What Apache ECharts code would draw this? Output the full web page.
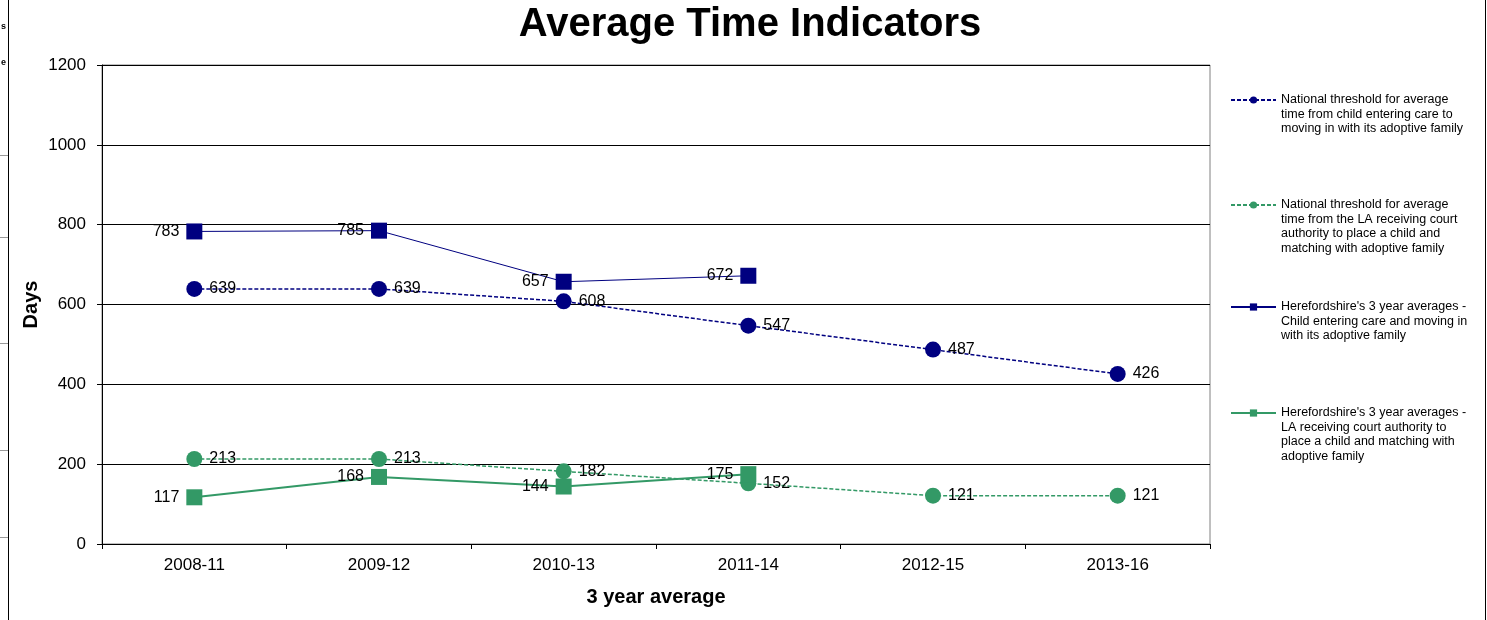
<!DOCTYPE html>
<html>
<head>
<meta charset="utf-8">
<script src="https://cdn.jsdelivr.net/npm/echarts@6/dist/echarts.min.js"></script>
<style>
  html, body { margin: 0; padding: 0; background: #fff; }
  #chart { width: 1487px; height: 620px; }
</style>
</head>
<body>
<div id="chart"></div>
<script>
var periods = ['2008-11', '2009-12', '2010-13', '2011-14', '2012-15', '2013-16'];
var natCare = [639, 639, 608, 547, 487, 426];
var natCourt = [213, 213, 182, 152, 121, 121];
var herefCare = [783, 785, 657, 672, null, null];
var herefCourt = [117, 168, 144, 175, null, null];
var yTicks = [0, 200, 400, 600, 800, 1000, 1200];

var navy = '#000080', green = '#339966';
var font = 'Arial, "Liberation Sans", sans-serif';

var legendText = {
  natCare: 'National threshold for average\ntime from child entering care to\nmoving in with its adoptive family',
  natCourt: 'National threshold for average\ntime from the LA receiving court\nauthority to place a child and\nmatching with adoptive family',
  herefCare: "Herefordshire's 3 year averages -\nChild entering care and moving in\nwith its adoptive family",
  herefCourt: "Herefordshire's 3 year averages -\nLA receiving court authority to\nplace a child and matching with\nadoptive family"
};
var lh = 14.5;

// one legend per entry; blank lines in front so the icon sits on the first text line
var mkLegend = function(name, iconY) {
  var n = legendText[name].split('\n').length;
  var pad = new Array(n).join('\n');
  return {
    left: 1230, top: iconY - (2 * n - 1) * lh / 2, orient: 'vertical', padding: 0,
    itemWidth: 45, itemHeight: 9, itemGap: 5,
    data: [name],
    formatter: function() { return pad + legendText[name]; },
    textStyle: { fontFamily: font, fontSize: 12.5, color: '#000', lineHeight: lh }
  };
};

var lbl = function(pos) {
  return { show: true, position: pos, distance: 7, color: '#000', fontSize: 16, fontFamily: font };
};

var chart = echarts.init(document.getElementById('chart'));
chart.setOption({
  animation: false,
  backgroundColor: '#fff',
  title: {
    text: 'Average Time Indicators', left: 745, top: 0, textAlign: 'center',
    textStyle: { fontFamily: font, fontSize: 40, fontWeight: 'bold', color: '#000' }
  },
  legend: [
    mkLegend('natCare', 100),
    mkLegend('natCourt', 205),
    mkLegend('herefCare', 307),
    mkLegend('herefCourt', 413)
  ],
  grid: { left: 102, right: 277, top: 65, bottom: 76, show: true, borderColor: '#808080', borderWidth: 1 },
  xAxis: {
    type: 'category', data: periods, boundaryGap: true,
    name: '3 year average', nameLocation: 'middle', nameGap: 43, nameMoveOverlap: false,
    nameTextStyle: { fontFamily: font, fontSize: 20, fontWeight: 'bold', color: '#000' },
    axisLine: { lineStyle: { color: '#000', width: 1 } },
    axisTick: { show: true, length: 5, lineStyle: { color: '#000' } },
    axisLabel: { fontFamily: font, fontSize: 17, color: '#000', margin: 13 }
  },
  yAxis: {
    type: 'value', min: yTicks[0], max: yTicks[yTicks.length - 1], interval: 200,
    name: 'Days', nameLocation: 'middle', nameGap: 61, nameRotate: 90, nameMoveOverlap: false,
    nameTextStyle: { fontFamily: font, fontSize: 20, fontWeight: 'bold', color: '#000' },
    axisLine: { show: true, lineStyle: { color: '#000', width: 1 } },
    axisTick: { show: true, length: 5, lineStyle: { color: '#000' } },
    axisLabel: { fontFamily: font, fontSize: 17, color: '#000', margin: 16,
                 formatter: function(v) { return String(v); } },
    splitLine: { show: true, lineStyle: { color: '#000', width: 1 } }
  },
  series: [
    { name: 'natCare', type: 'line', data: natCare, symbol: 'circle', symbolSize: 16,
      itemStyle: { color: navy }, lineStyle: { color: navy, width: 1.5, type: [4, 2] },
      label: lbl('right'), z: 3 },
    { name: 'natCourt', type: 'line', data: natCourt, symbol: 'circle', symbolSize: 16,
      itemStyle: { color: green }, lineStyle: { color: green, width: 1.5, type: [4, 2] },
      label: lbl('right'), z: 3 },
    { name: 'herefCare', type: 'line', data: herefCare, symbol: 'rect', symbolSize: 16,
      itemStyle: { color: navy }, lineStyle: { color: navy, width: 1 },
      label: lbl('left'), z: 4 },
    { name: 'herefCourt', type: 'line', data: herefCourt, symbol: 'rect', symbolSize: 16,
      itemStyle: { color: green }, lineStyle: { color: green, width: 2 },
      label: lbl('left'), z: 4 }
  ],
  graphic: [
    { type: 'line', shape: { x1: 8.5, y1: 0, x2: 8.5, y2: 620 }, style: { stroke: '#000', lineWidth: 1 } },
    { type: 'line', shape: { x1: 1485.5, y1: 0, x2: 1485.5, y2: 620 }, style: { stroke: '#000', lineWidth: 1 } },
    { type: 'line', shape: { x1: 0, y1: 155.5, x2: 8, y2: 155.5 }, style: { stroke: '#999', lineWidth: 1 } },
    { type: 'line', shape: { x1: 0, y1: 237.5, x2: 8, y2: 237.5 }, style: { stroke: '#999', lineWidth: 1 } },
    { type: 'line', shape: { x1: 0, y1: 343.5, x2: 8, y2: 343.5 }, style: { stroke: '#999', lineWidth: 1 } },
    { type: 'line', shape: { x1: 0, y1: 450.5, x2: 8, y2: 450.5 }, style: { stroke: '#999', lineWidth: 1 } },
    { type: 'line', shape: { x1: 0, y1: 537.5, x2: 8, y2: 537.5 }, style: { stroke: '#999', lineWidth: 1 } },
    { type: 'text', left: 1, top: 22, style: { text: 's', fontFamily: font, fontSize: 9, fontWeight: 'bold', fill: '#000' } },
    { type: 'text', left: 1, top: 58, style: { text: 'e', fontFamily: font, fontSize: 9, fontWeight: 'bold', fill: '#000' } }
  ]
});
</script>
</body>
</html>
